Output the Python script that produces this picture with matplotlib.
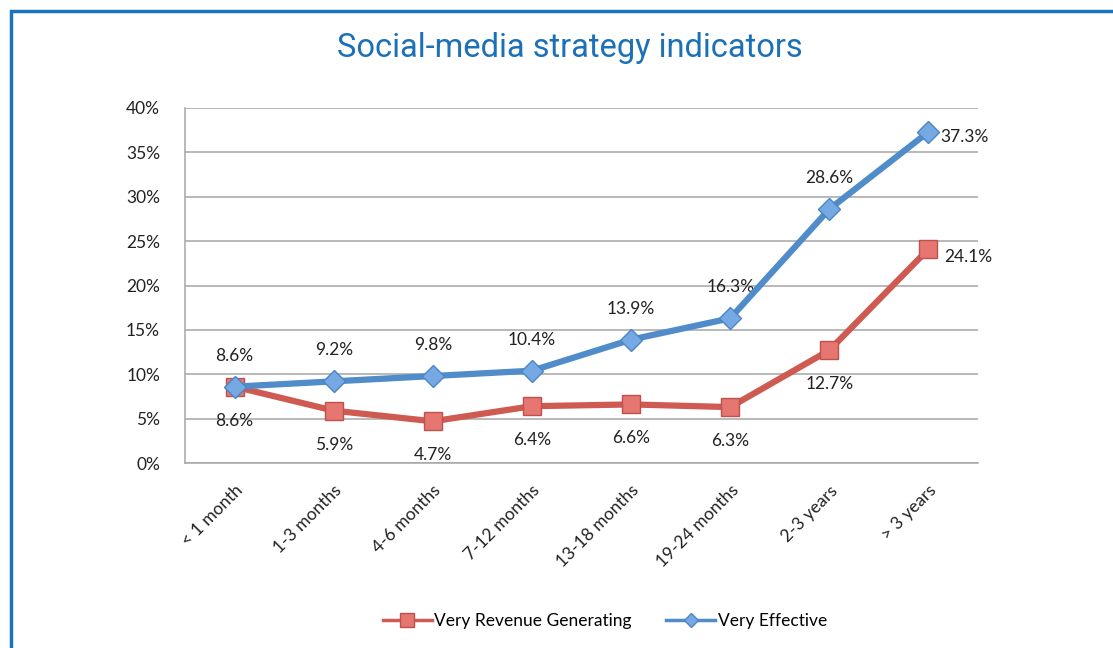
import numpy as np
import matplotlib.pyplot as plt
from matplotlib.lines import Line2D
from matplotlib.patches import Rectangle

periods = ['< 1 month', '1-3 months', '4-6 months', '7-12 months',
           '13-18 months', '19-24 months', '2-3 years', '> 3 years']
revenue = [8.6, 5.9, 4.7, 6.4, 6.6, 6.3, 12.7, 24.1]
effective = [8.6, 9.2, 9.8, 10.4, 13.9, 16.3, 28.6, 37.3]
yticks = [0, 5, 10, 15, 20, 25, 30, 35, 40]

red_line = '#cf5a52'
red_fill = '#e57670'
red_edge = '#c0504d'
blue_line = '#4f8cc9'
blue_fill = '#76a9e3'
blue_edge = '#4a86c5'
frame_blue = '#1a74bd'
ink = '#222222'
fs = 12.5

plt.rcParams['font.family'] = ['Lato', 'DejaVu Sans']

fig = plt.figure(figsize=(11.13, 6.48), dpi=100)
ax = fig.add_axes([185 / 1113, 1 - 463 / 648, 793 / 1113, 355 / 648])

# outer frame: only the top and left edges show
fig.patches.append(Rectangle((11 / 1113, -0.1), 1.2, 0.1 + 1 - 11 / 648,
                             transform=fig.transFigure, fill=False,
                             edgecolor=frame_blue, linewidth=2.5))

x = np.arange(len(periods))
ax.plot(x, revenue, color=red_line, lw=4.5, marker='s', ms=13,
        mfc=red_fill, mec=red_edge, mew=1, zorder=3, solid_joinstyle='round')
ax.plot(x, effective, color=blue_line, lw=4.5, marker='D', ms=11,
        mfc=blue_fill, mec=blue_edge, mew=1, zorder=4, solid_joinstyle='round')

ax.set_xlim(-0.5, len(periods) - 0.5)
ax.set_ylim(0, 40)
ax.set_yticks(yticks)
ax.set_yticklabels([f'{v}%' for v in yticks], fontsize=fs, color=ink)
ax.set_xticks(x)
ax.set_xticklabels(periods, rotation=45, ha='right', rotation_mode='anchor',
                   fontsize=fs, color=ink)
ax.tick_params(axis='both', length=0)
ax.tick_params(axis='y', pad=18)
ax.tick_params(axis='x', pad=14)
ax.yaxis.grid(True, color='#a6a6a6', lw=1.1)
ax.set_axisbelow(True)
for side in ['top', 'right']:
    ax.spines[side].set_visible(False)
for side in ['left', 'bottom']:
    ax.spines[side].set_color('#a6a6a6')
    ax.spines[side].set_linewidth(1.1)

lab = dict(fontsize=fs, color=ink, ha='center', va='center')
for i, v in enumerate(effective):
    if i == len(effective) - 1:
        ax.annotate(f'{v}%', (i, v), xytext=(36, -5), textcoords='offset pixels', **lab)
    else:
        ax.annotate(f'{v}%', (i, v), xytext=(0, 31), textcoords='offset pixels', **lab)
for i, v in enumerate(revenue):
    if i == len(revenue) - 1:
        ax.annotate(f'{v}%', (i, v), xytext=(40, -8), textcoords='offset pixels', **lab)
    else:
        ax.annotate(f'{v}%', (i, v), xytext=(0, -34), textcoords='offset pixels', **lab)

fig.text(570 / 1113, 1 - 48 / 648, 'Social-media strategy indicators',
         fontsize=23.5, color='#1b70b8', ha='center', va='center',
         family=['Roboto', 'DejaVu Sans'])

handles = [
    Line2D([], [], color=red_line, lw=2.5, marker='s', ms=10,
           mfc=red_fill, mec=red_edge),
    Line2D([], [], color=blue_line, lw=2.5, marker='D', ms=7.5,
           mfc=blue_fill, mec=blue_edge),
]
fig.legend(handles, ['Very Revenue Generating', 'Very Effective'],
           loc='center', bbox_to_anchor=(605 / 1113, 1 - 621 / 648),
           ncol=2, frameon=False, fontsize=fs, handlelength=2.8,
           handletextpad=0.15, columnspacing=2.0)

fig.savefig('out.png', dpi=100)
